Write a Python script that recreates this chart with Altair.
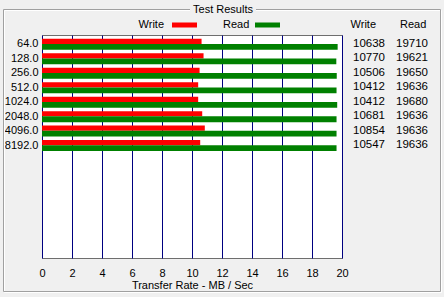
import altair as alt
import pandas as pd

# ---- data ----
block_sizes = ["64.0", "128.0", "256.0", "512.0", "1024.0", "2048.0", "4096.0", "8192.0"]
write_kb = [10638, 10770, 10506, 10412, 10412, 10681, 10854, 10547]
read_kb = [19710, 19621, 19650, 19636, 19680, 19636, 19636, 19636]
x_ticks = [0, 2, 4, 6, 8, 10, 12, 14, 16, 18, 20]

FONT = "Liberation Sans"
BG = "#f0f0f0"

df = pd.DataFrame({
    "row": list(range(len(block_sizes))),
    "size": block_sizes,
    "write": write_kb,
    "read": read_kb,
})
df["write_mb"] = df["write"] / 1000.0
df["read_mb"] = df["read"] / 1000.0
df["w_top"] = df["row"] - 0.36
df["r_bot"] = df["row"] + 0.40
df["zero"] = 0

W, H = 300, 223
y_scale = alt.Scale(domain=[-0.622, 14.79], reverse=True, nice=False, zero=False)
x_scale = alt.Scale(domain=[0, 20], nice=False, zero=False)

label_expr = "[" + ",".join("'%s'" % s for s in block_sizes) + "][datum.value]"

x_axis = alt.Axis(values=x_ticks, grid=True, gridColor="#000080", gridOpacity=1,
                  gridWidth=1, ticks=False, domain=False, labelFlush=False, labelOverlap=False,
                  labelPadding=9, labelFontSize=11, labelFont=FONT, labelColor="black",
                  title="Transfer Rate - MB / Sec", titleFont=FONT, titleFontSize=11,
                  titleFontWeight="normal", titleColor="black", titlePadding=1)
y_axis = alt.Axis(values=list(range(len(block_sizes))), labelExpr=label_expr,
                  ticks=False, domain=False, grid=False, title=None, labelPadding=4,
                  labelOverlap=False, labelFlush=False, labelFontSize=11,
                  labelFont=FONT, labelColor="black")

base = alt.Chart(df)

write_bars = base.mark_rect(color="#ff0000").encode(
    x=alt.X("zero:Q", scale=x_scale, axis=x_axis),
    x2="write_mb:Q",
    y=alt.Y("w_top:Q", scale=y_scale, axis=y_axis),
    y2="row:Q",
)

read_bars = base.mark_rect(color="#008000").encode(
    x=alt.X("zero:Q", scale=x_scale, axis=x_axis),
    x2="read_mb:Q",
    y=alt.Y("row:Q", scale=y_scale, axis=y_axis),
    y2="r_bot:Q",
)

write_txt = base.mark_text(align="right", baseline="middle", font=FONT, fontSize=11.5,
                           color="black").encode(
    x=alt.value(343), y=alt.Y("row:Q", scale=y_scale, axis=y_axis), text="write:Q")
read_txt = base.mark_text(align="right", baseline="middle", font=FONT, fontSize=11.5,
                          color="black").encode(
    x=alt.value(386), y=alt.Y("row:Q", scale=y_scale, axis=y_axis), text="read:Q")

one = alt.Chart(pd.DataFrame({"a": [0]}))

# group box (etched frame)
frame_white = one.mark_rect(filled=False, stroke="white", strokeWidth=1).encode(
    x=alt.value(-37.5), x2=alt.value(399.5), y=alt.value(-24.5), y2=alt.value(257.5))
frame_gray = one.mark_rect(filled=False, stroke="#a0a0a0", strokeWidth=1).encode(
    x=alt.value(-38.5), x2=alt.value(398.5), y=alt.value(-25.5), y2=alt.value(256.5))
title_gap = one.mark_rect(fill=BG).encode(
    x=alt.value(148), x2=alt.value(214), y=alt.value(-32), y2=alt.value(-19))
title_txt = one.mark_text(align="center", baseline="middle", font=FONT, fontSize=11,
                          color="black").encode(
    x=alt.value(181), y=alt.value(-25), text=alt.value("Test Results"))

# legend
leg_w_txt = one.mark_text(align="right", baseline="middle", font=FONT, fontSize=11,
                          color="black").encode(
    x=alt.value(122), y=alt.value(-10), text=alt.value("Write"))
leg_w_sw = one.mark_rect(color="#ff0000").encode(
    x=alt.value(130), x2=alt.value(155), y=alt.value(-12.5), y2=alt.value(-7.5))
leg_r_txt = one.mark_text(align="left", baseline="middle", font=FONT, fontSize=11,
                          color="black").encode(
    x=alt.value(181), y=alt.value(-10), text=alt.value("Read"))
leg_r_sw = one.mark_rect(color="#008000").encode(
    x=alt.value(213), x2=alt.value(238), y=alt.value(-12.5), y2=alt.value(-7.5))

hdr_w = one.mark_text(align="right", baseline="middle", font=FONT, fontSize=11,
                      color="black").encode(
    x=alt.value(334), y=alt.value(-10), text=alt.value("Write"))
hdr_r = one.mark_text(align="left", baseline="middle", font=FONT, fontSize=11,
                      color="black").encode(
    x=alt.value(358), y=alt.value(-10), text=alt.value("Read"))

chart = alt.layer(
    frame_white, frame_gray, title_gap, title_txt,
    leg_w_txt, leg_w_sw, leg_r_txt, leg_r_sw, hdr_w, hdr_r,
    write_bars, read_bars, write_txt, read_txt,
).properties(
    width=W, height=H,
    autosize=alt.AutoSizeParams(type="none"),
    padding={"left": 42, "top": 35, "right": 102, "bottom": 39},
    background=BG,
).configure_view(
    stroke="#6e6e6e", fill="white", strokeWidth=1
).configure_axis(
    labelOverlap=False
)

chart.save("out.html", embed_options={"renderer": "svg", "actions": False})
